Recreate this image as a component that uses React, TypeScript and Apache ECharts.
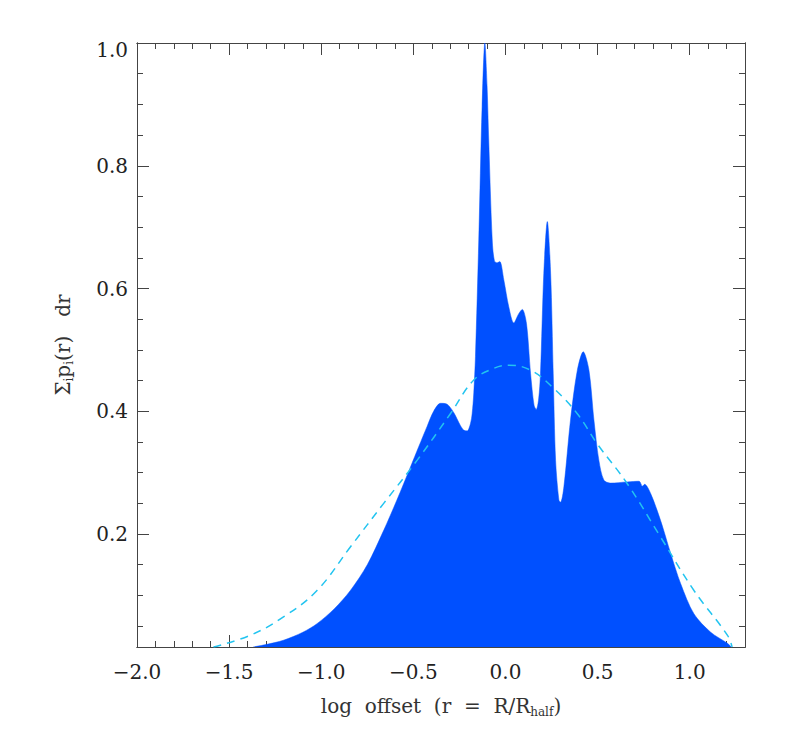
import React, { useEffect, useRef } from "react";
import * as echarts from "echarts";

// Tick labels
const xMajorTicks = [-2.0, -1.5, -1.0, -0.5, 0.0, 0.5, 1.0];
const yMajorTicks = [0.2, 0.4, 0.6, 0.8, 1.0];

// Filled distribution (log offset, sum p_i(r) dr)
const distX = [
  -1.37, -1.3, -1.205, -1.1, -1.023, -0.93, -0.842, -0.75, -0.661, -0.59, -0.516, -0.47, -0.426, -0.39,
  -0.353, -0.32, -0.281, -0.245, -0.225, -0.208, -0.19, -0.181, -0.172, -0.163, -0.145, -0.127, -0.112,
  -0.1, -0.091, -0.072, -0.06, -0.045, -0.031, -0.009, 0.018, 0.045, 0.072, 0.091, 0.114, 0.136, 0.155,
  0.167, 0.18, 0.19, 0.208, 0.227, 0.245, 0.259, 0.272, 0.29, 0.299, 0.317, 0.353, 0.39, 0.422, 0.453,
  0.48, 0.507, 0.534, 0.571, 0.661, 0.725, 0.743, 0.755, 0.788, 0.842, 0.897, 0.951, 1.023, 1.114, 1.205,
  1.225,
];
const distY = [
  0.016, 0.02, 0.027, 0.04, 0.054, 0.078, 0.108, 0.15, 0.206, 0.255, 0.309, 0.343, 0.375, 0.4,
  0.413, 0.412, 0.398, 0.377, 0.369, 0.368, 0.38, 0.396, 0.43, 0.489, 0.679, 0.896, 1.0,
  0.93, 0.842, 0.679, 0.645, 0.642, 0.644, 0.614, 0.57, 0.544, 0.559, 0.566, 0.543, 0.462, 0.41,
  0.403, 0.42, 0.462, 0.625, 0.709, 0.625, 0.462, 0.32, 0.255, 0.252, 0.277, 0.386, 0.467, 0.497, 0.467,
  0.386, 0.32, 0.288, 0.283, 0.285, 0.286, 0.278, 0.281, 0.266, 0.222, 0.168, 0.119, 0.07, 0.04, 0.022,
  0.016,
];

// Dashed fitted curve
const fitX = [-1.585, -1.386, -1.205, -1.023, -0.842, -0.661, -0.48, -0.299, -0.172, -0.063, 0.018, 0.136, 0.263, 0.39, 0.498, 0.661, 0.842, 1.023, 1.205, 1.23];
const fitY = [0.016, 0.035, 0.065, 0.108, 0.179, 0.25, 0.32, 0.396, 0.451, 0.47, 0.475, 0.467, 0.437, 0.396, 0.347, 0.282, 0.195, 0.108, 0.035, 0.016];

const X_MIN = -2.0;
const X_MAX = 1.3;
const Y_MIN = 0.016;
const Y_MAX = 1.0;

const FONT = "DejaVu Serif";
const AXIS_COLOR = "#444";
const TEXT_COLOR = "#222";

function minorList(start: number, end: number, step: number, majors: number[]) {
  const out: number[] = [];
  const n = Math.round((end - start) / step);
  for (let i = 0; i <= n; i++) {
    const v = Math.round((start + i * step) * 1000) / 1000;
    if (!majors.some((m) => Math.abs(m - v) < 1e-6)) out.push(v);
  }
  return out;
}

const fmt = (v: number) => (v < -1e-9 ? "\u2212" : "") + Math.abs(v).toFixed(1);

export default function App() {
  const ref = useRef<HTMLDivElement>(null);
  useEffect(() => {
    const chart = echarts.init(ref.current!, null, { renderer: "svg" });
    const xMinor = minorList(-2.0, 1.2, 0.1, xMajorTicks);
    const yMinor = minorList(0.05, 0.95, 0.05, yMajorTicks);

    const xAxis = (position: string, ticks: number[], len: number, labels: boolean, extra: any = {}) => ({
      type: "value",
      min: X_MIN,
      max: X_MAX,
      position,
      splitLine: { show: false },
      axisLine: { show: true, onZero: false, lineStyle: { color: AXIS_COLOR, width: 1 } },
      axisTick: { show: true, inside: true, length: len, customValues: ticks, lineStyle: { color: AXIS_COLOR, width: 1 } },
      axisLabel: labels
        ? { show: true, customValues: ticks, formatter: fmt, margin: 15, fontFamily: FONT, fontSize: 20, color: TEXT_COLOR }
        : { show: false },
      ...extra,
    });
    const yAxis = (position: string, ticks: number[], len: number, labels: boolean, extra: any = {}) => ({
      type: "value",
      min: Y_MIN,
      max: Y_MAX,
      position,
      splitLine: { show: false },
      axisLine: { show: true, onZero: false, lineStyle: { color: AXIS_COLOR, width: 1 } },
      axisTick: { show: true, inside: true, length: len, customValues: ticks, lineStyle: { color: AXIS_COLOR, width: 1 } },
      axisLabel: labels
        ? {
            show: true,
            customValues: ticks,
            formatter: (v: number) => (v > 0.99 ? "{top|" + v.toFixed(1) + "}" : v.toFixed(1)),
            margin: 9,
            fontFamily: FONT,
            fontSize: 20,
            color: TEXT_COLOR,
            rich: { top: { fontFamily: FONT, fontSize: 20, color: TEXT_COLOR, padding: [14, 0, 0, 0] } },
          }
        : { show: false },
      ...extra,
    });

    const nameStyle = {
      fontFamily: FONT,
      fontSize: 20,
      color: "#333",
      rich: { sub: { fontFamily: FONT, fontSize: 12, color: "#333", padding: [13, 0, 0, 0] } },
    };

    const option: any = {
      animation: false,
      backgroundColor: "#fff",
      grid: { left: 137, right: 41, top: 43, bottom: 87, containLabel: false },
      xAxis: [
        xAxis("bottom", xMajorTicks, 12, true, {
          name: "log  offset  (r  =  R/R{sub|half})",
          nameLocation: "middle",
          nameGap: 46,
          nameTextStyle: nameStyle,
        }),
        xAxis("bottom", xMinor, 6, false),
        xAxis("top", xMajorTicks, 12, false),
        xAxis("top", xMinor, 6, false),
      ],
      yAxis: [
        yAxis("left", yMajorTicks, 12, true, {
          name: "\u03A3{sub|i}p{sub|i}(r)   dr",
          nameLocation: "middle",
          nameGap: 62,
          nameTextStyle: nameStyle,
        }),
        yAxis("left", yMinor, 6, false),
        yAxis("right", yMajorTicks, 12, false),
        yAxis("right", yMinor, 6, false),
      ],
      series: [
        {
          type: "line",
          xAxisIndex: 0,
          yAxisIndex: 0,
          data: distX.map((x, i) => [x, distY[i]]),
          showSymbol: false,
          smooth: 0.3,
          lineStyle: { width: 0.5, color: "#0050FF" },
          areaStyle: { color: "#0050FF", opacity: 1, origin: "start" },
          z: 1,
        },
        {
          type: "line",
          xAxisIndex: 0,
          yAxisIndex: 0,
          data: fitX.map((x, i) => [x, fitY[i]]),
          showSymbol: false,
          smooth: 0.4,
          lineStyle: { width: 1.5, color: "#22C4F0", type: [8, 6] },
          z: 3,
        },
      ],
    };
    chart.setOption(option);
    return () => chart.dispose();
  }, []);
  return (
    <div
      ref={ref}
      style={{ position: "fixed", left: 0, top: 0, width: 786, height: 734, background: "#fff" }}
    />
  );
}
